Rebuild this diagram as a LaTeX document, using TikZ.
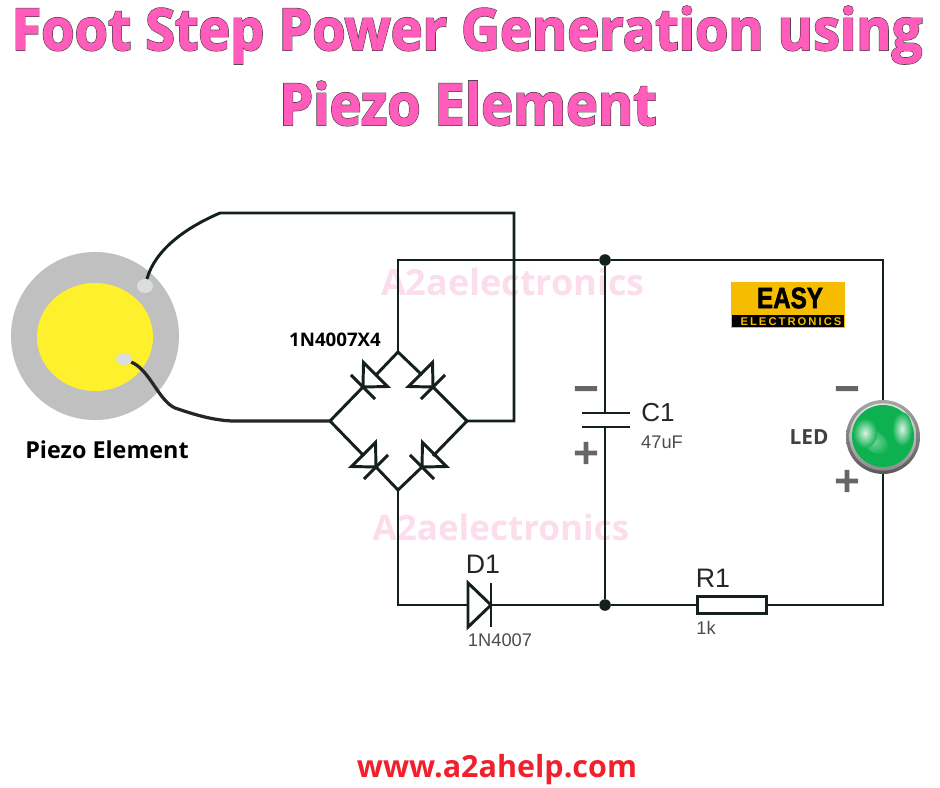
\documentclass[tikz,border=0pt]{standalone}
\usepackage{fontspec}
\setmainfont{Open Sans}
\newfontfamily\arialfont{Liberation Sans}
\newfontfamily\signfont{DejaVu Sans}
\usetikzlibrary{shapes.geometric}
\definecolor{wirecol}{HTML}{14201A}
\definecolor{titlepink}{HTML}{FF5CBB}
\definecolor{markpink}{HTML}{FBDDEC}
\definecolor{padgray}{HTML}{DCDEDE}
\definecolor{discgray}{HTML}{C0C0C0}
\definecolor{discyellow}{HTML}{FFF02E}
\definecolor{logoyellow}{HTML}{F5BC00}
\definecolor{ledgreen}{HTML}{0DB14F}
\definecolor{signgray}{HTML}{666666}
\definecolor{webred}{HTML}{F0202C}
\newcommand{\outlined}[1]{\rlap{\special{pdf:code q 2 Tr 1.4 w 0.25 0.25 0.25 RG}#1\special{pdf:code Q}}\special{pdf:code q 2 Tr 0.55 w 1 0.36 0.73 RG}#1\special{pdf:code Q}}
\tikzset{
    wire/.style = {line width=2.1pt, color=wirecol},
    pics/rectifier/.style = {code = {
        \draw[wire, line join=miter] (-17.7,-17) -- (0,0) -- (-17.7,17) -- cycle;
        \draw[wire] (0,-17) -- (0,17);
    }},
    titletext/.style = {anchor=base, inner sep=0pt, xscale=0.935, font=\fontsize{41}{41}\selectfont\bfseries, text=titlepink},
    watermark/.style = {inner sep=0pt, font=\fontsize{25.6}{25.6}\selectfont\bfseries, text=markpink},
    boldlabel/.style = {inner sep=0pt, font=\fontsize{16}{16}\selectfont\bfseries, text=black!85},
    partname/.style = {inner sep=0pt, font=\arialfont\fontsize{19}{19}\selectfont, text=black!85},
    partvalue/.style = {inner sep=0pt, font=\arialfont\fontsize{13}{13}\selectfont, text=black!70},
    signmark/.style = {inner sep=0pt, font=\signfont\fontsize{24}{24}\selectfont\bfseries\addfontfeature{FakeBold=3}, text=signgray},
    pad/.style = {ellipse, fill=padgray, inner sep=0pt, minimum width=0.4cm, minimum height=0.35cm},
    junction/.style = {circle, fill=wirecol, inner sep=0pt, minimum size=0.29cm},
    ledglow/.style = {ellipse, inner sep=0pt, shade, inner color=white!85!ledgreen, outer color=ledgreen},
}
\begin{document}
\begin{tikzpicture}[x=0.025cm, y=-0.025cm]
    \useasboundingbox (0,0) rectangle (940,788);

    \node[titletext] (titleA) at (467,50) {\outlined{Foot Step Power Generation using}};
    \node[titletext] (titleB) at (468,125) {\outlined{Piezo Element}};

    \node[watermark] (markA) at (513,282) {A2aelectronics};
    \node[watermark, font=\fontsize{24.9}{24.9}\selectfont\bfseries] (markB) at (501,527) {A2aelectronics};

    \node[circle, fill=discgray, inner sep=0pt, minimum size=4.2cm] (disc) at (95,336) {};
    \node[ellipse, fill=discyellow, inner sep=0pt, minimum width=2.9cm, minimum height=2.7cm] (plate) at (95,337) {};
    \node[pad] (padA) at (145,286) {};
    \node[pad, minimum height=0.3cm] (padB) at (124,359) {};
    \node[boldlabel, font=\fontsize{16.6}{16.6}\selectfont\bfseries, text=black] (piezo) at (107,450) {Piezo Element};
    \node[boldlabel, font=\fontsize{13.3}{13.3}\selectfont\bfseries, text=black] (bridge) at (335,340) {1N4007X4};

    \coordinate (T) at (398,352);
    \coordinate (L) at (330,421);
    \coordinate (R) at (467,421);
    \coordinate (B) at (398,490);
    \coordinate (TL) at (363,387);
    \coordinate (TR) at (433,387);
    \coordinate (BL) at (376,467);
    \coordinate (BR) at (422,467);
    \coordinate (TLa) at (376,375);
    \coordinate (TRa) at (422,375);
    \coordinate (BLa) at (364,456);
    \coordinate (BRa) at (433,456);

    \pic at (TL) [rotate=-135] {rectifier};
    \pic at (TR) [rotate=-45] {rectifier};
    \pic at (BL) [rotate=-45] {rectifier};
    \pic at (BR) [rotate=-135] {rectifier};

    \draw[wire] (T) -- (TLa);
    \draw[wire] (TL) -- (L);
    \draw[wire] (T) -- (TRa);
    \draw[wire] (TR) -- (R);
    \draw[wire] (L) -- (BLa);
    \draw[wire] (BL) -- (B);
    \draw[wire] (R) -- (BRa);
    \draw[wire] (BR) -- (B);

    \coordinate (railL) at (398,260);
    \coordinate (railR) at (883,260);
    \coordinate (baseL) at (398,605);
    \coordinate (baseR) at (883,605);
    \coordinate (loopA) at (220,213);
    \coordinate (loopB) at (514,213);
    \coordinate (loopC) at (514,421);
    \coordinate (leadB) at (232,421);
    \coordinate (diodeA) at (468,605);
    \coordinate (diodeC) at (491,605);
    \coordinate (capA) at (605,413);
    \coordinate (capB) at (605,427);
    \coordinate (capAl) at (582,413);
    \coordinate (capAr) at (630,413);
    \coordinate (capBl) at (582,427);
    \coordinate (capBr) at (630,427);

    \node[junction] (jtop) at (605,260) {};
    \node[junction] (jbot) at (605,605) {};
    \node[draw=wirecol, line width=2.1pt, fill=white, inner sep=0pt, minimum width=1.72cm, minimum height=0.42cm] (res) at (732,605) {};

    \node[circle, inner sep=0pt, minimum size=1.85cm, shade, shading=axis, top color=black!35, bottom color=black!65] (led) at (883,437) {};
    \node[circle, inner sep=0pt, minimum size=1.68cm, shade, shading=axis, top color=white!90!black, bottom color=black!45] (ledrim) at (883,437) {};
    \node[circle, inner sep=0pt, minimum size=1.55cm, fill=ledgreen] (ledbody) at (883,436) {};
    \node[ledglow, inner color=white!40!ledgreen, minimum width=0.75cm, minimum height=0.5cm, rotate=-40] (glowB) at (875,442) {};
    \node[ledglow, minimum width=0.6cm, minimum height=0.75cm] (glowA) at (865,433) {};
    \node[ledglow, minimum width=0.5cm, minimum height=0.85cm] (glowC) at (902,429) {};

    \draw[wire] (padA) .. controls (155,250) and (185,228) .. (loopA) -- (loopB) -- (loopC) -- (R);
    \draw[wire, line width=2.3pt, color=black!85] (padB) .. controls (150,370) and (158,400) .. (175,408) .. controls (190,413) and (210,420) .. (leadB) -- (L);
    \draw[wire] (T) -- (railL) -- (jtop) -- (railR) -- (led);
    \draw[wire] (led) -- (baseR) -- (res);
    \draw[wire] (res) -- (jbot) -- (diodeC);
    \draw[wire] (diodeA) -- (baseL) -- (B);
    \draw[wire] (jtop) -- (capA);
    \draw[wire] (capB) -- (jbot);
    \draw[wire] (capAl) -- (capAr);
    \draw[wire] (capBl) -- (capBr);
    \pic at (diodeC) [scale=1.3] {rectifier};

    \node[partname] (dname) at (483,564) {D1};
    \node[partvalue] (dvalue) at (500,640) {1N4007};
    \node[partname] (rname) at (713,578) {R1};
    \node[partvalue] (rvalue) at (706,628) {1k};
    \node[partname, font=\arialfont\fontsize{18.5}{18.5}\selectfont] (cname) at (658,413) {C1};
    \node[partvalue] (cvalue) at (662,442) {47uF};
    \node[boldlabel, font=\fontsize{14.8}{14.8}\selectfont\bfseries, text=black!75] (ledname) at (809,437) {LED};

    \node[signmark] (capminus) at (586,393) {−};
    \node[signmark] (capplus) at (586,453) {+};
    \node[signmark] (ledminus) at (847,393) {−};
    \node[signmark] (ledplus) at (847,481) {+};

    \node[fill=logoyellow, inner sep=0pt, minimum width=2.85cm, minimum height=1.15cm] (logo) at (788,305) {};
    \node[fill=black, inner sep=0pt, minimum width=2.8cm, minimum height=0.3cm] (logoband) at (788,321) {};
    \node[inner sep=0pt, font=\arialfont\fontsize{21}{21}\selectfont\bfseries\addfontfeature{FakeBold=2}, xscale=0.82, text=black] (logotop) at (790,298) {EASY};
    \node[inner sep=0pt, font=\arialfont\fontsize{8}{8}\selectfont\bfseries\addfontfeature{LetterSpace=18}, text=logoyellow] (logobot) at (791,322) {ELECTRONICS};

    \node[inner sep=0pt, font=\fontsize{21.7}{21.7}\selectfont\bfseries, text=webred] (web) at (497,770) {www.a2ahelp.com};
\end{tikzpicture}
\end{document}
